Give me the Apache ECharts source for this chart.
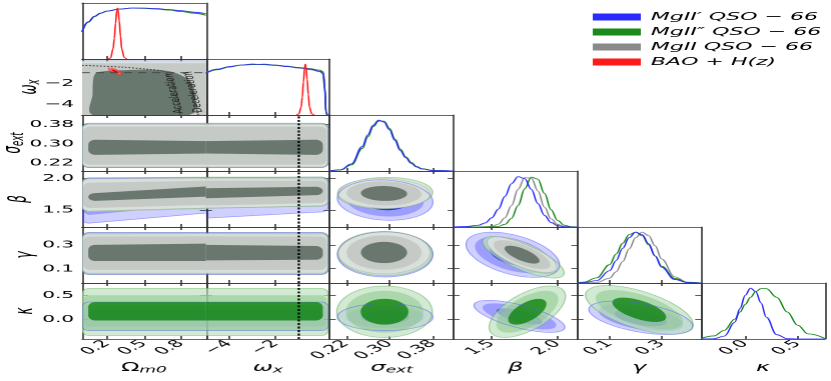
<!DOCTYPE html>
<html>
<head>
<meta charset="utf-8">
<script src="https://cdn.jsdelivr.net/npm/echarts@6/dist/echarts.min.js"></script>
<style>
  html, body { margin: 0; padding: 0; background: #fff; overflow: hidden; }
  /* the reference figure is stretched 2x horizontally */
  #chart { width: 415.5px; height: 381px; transform: scaleX(2); transform-origin: 0 0; }
</style>
</head>
<body>
<div id="chart"></div>
<script>
var FONT = 'DejaVu Sans';

// datasets: 0 blue, 1 green, 2 gray, 3 red
var dsNames = ['MgII′ QSO − 66', 'MgII″ QSO − 66', 'MgII QSO − 66', 'BAO + H(z)'];
var dsColors = ['#2b2bff', '#1a8a1a', '#8a8a8a', '#ff1a1a'];

// parameters: Ωm0, ωx, σext, β, γ, κ
var xRanges = [[0, 1], [-5, 0.33], [0.19, 0.418], [1.21, 2.15], [-0.024, 0.452], [-0.42, 0.76]];
var yRanges = [[0, 1.1], [-5, 0.3], [0.186, 0.42], [1.23, 2.115], [-0.02, 0.45], [-0.4, 0.75]];
var ticks = [[0.2, 0.5, 0.8], [-4, -2], [0.22, 0.30, 0.38], [1.5, 2.0], [0.1, 0.3], [0.0, 0.5]];
var tickLabels = [['0.2', '0.5', '0.8'], ['−4', '−2'], ['0.22', '0.30', '0.38'], ['1.5', '2.0'], ['0.1', '0.3'], ['0.0', '0.5']];
var axisNames = ['{u|Ω}{s|m0}', '{m|ω}{s|x}', '{m|σ}{s|ext}', '{m|β}', '{m|γ}', '{m|κ}'];
var yNameGaps = [0, 19, 27, 24, 21, 21];

// 1D marginals (normalised heights)
var omGrid = [0, 0.05, 0.1, 0.15, 0.2, 0.3, 0.4, 0.5, 0.6, 0.7, 0.8, 0.9, 1.0];
var omBlue = [0.54, 0.73, 0.84, 0.9, 0.94, 0.98, 1.0, 1.0, 0.99, 0.97, 0.95, 0.92, 0.89];
var omGreen = [0.53, 0.72, 0.83, 0.9, 0.94, 0.98, 1.0, 0.995, 0.98, 0.96, 0.93, 0.9, 0.86];
var omGray = [0.53, 0.73, 0.84, 0.9, 0.94, 0.98, 1.0, 1.0, 0.99, 0.97, 0.94, 0.9, 0.86];
var omRedX = [0.21, 0.23, 0.25, 0.26, 0.27, 0.28, 0.285, 0.29, 0.30, 0.31, 0.32, 0.34, 0.36];
var omRed = [0, 0.02, 0.2, 0.4, 0.7, 0.95, 1.0, 0.97, 0.75, 0.45, 0.2, 0.03, 0];

var wxGrid = [-5, -4.5, -4, -3.5, -3, -2.5, -2, -1.5, -1, -0.5, -0.1, 0.05, 0.12, 0.17, 0.22];
var wxBlue = [0.82, 0.9, 0.95, 0.98, 1.0, 0.99, 0.98, 0.95, 0.93, 0.9, 0.86, 0.82, 0.5, 0.05, 0];
var wxGreen = [0.82, 0.89, 0.94, 0.98, 0.99, 1.0, 0.98, 0.96, 0.93, 0.91, 0.88, 0.85, 0.55, 0.06, 0];
var wxGray = [0.83, 0.9, 0.95, 0.98, 1.0, 0.99, 0.97, 0.95, 0.92, 0.89, 0.85, 0.8, 0.45, 0.04, 0];
var wxRedX = [-1.1, -1.0, -0.9, -0.85, -0.8, -0.75, -0.72, -0.69, -0.64, -0.59, -0.54, -0.44, -0.34];
var wxRed = [0, 0.02, 0.15, 0.35, 0.65, 0.92, 1.0, 0.95, 0.7, 0.4, 0.15, 0.02, 0];

var sigGrid = [0.19, 0.21, 0.23, 0.25, 0.26, 0.27, 0.28, 0.29, 0.30, 0.31, 0.32, 0.33, 0.34, 0.35, 0.36, 0.38, 0.418];
var sigBlue = [0.003, 0.025, 0.14, 0.48, 0.71, 0.9, 1.0, 0.96, 0.81, 0.6, 0.4, 0.26, 0.15, 0.08, 0.04, 0.01, 0];
var sigGreen = [0.002, 0.02, 0.12, 0.44, 0.67, 0.87, 0.98, 0.98, 0.84, 0.63, 0.43, 0.28, 0.17, 0.09, 0.045, 0.01, 0];
var sigGray = [0.002, 0.02, 0.125, 0.45, 0.68, 0.88, 0.99, 0.97, 0.83, 0.62, 0.42, 0.27, 0.16, 0.08, 0.04, 0.01, 0];

var betaGrid = [1.21, 1.3, 1.4, 1.45, 1.5, 1.55, 1.6, 1.65, 1.7, 1.75, 1.8, 1.85, 1.9, 1.95, 2.0, 2.05, 2.1, 2.15];
var betaBlue = [0.003, 0.01, 0.035, 0.08, 0.18, 0.35, 0.6, 0.85, 0.99, 0.95, 0.74, 0.46, 0.23, 0.09, 0.025, 0.005, 0, 0];
var betaGreen = [0, 0, 0, 0.001, 0.002, 0.012, 0.053, 0.17, 0.42, 0.75, 0.98, 0.94, 0.66, 0.34, 0.13, 0.036, 0.008, 0];
var betaGray = [0, 0, 0.002, 0.005, 0.013, 0.056, 0.18, 0.42, 0.74, 0.97, 0.96, 0.71, 0.39, 0.16, 0.05, 0.01, 0, 0];

var gamGrid = [-0.024, 0.0, 0.05, 0.1, 0.125, 0.15, 0.175, 0.2, 0.225, 0.25, 0.275, 0.3, 0.35, 0.4, 0.452];
var gamBlue = [0.0016, 0.005, 0.046, 0.24, 0.44, 0.68, 0.89, 1.0, 0.95, 0.77, 0.53, 0.31, 0.07, 0.008, 0];
var gamGreen = [0.007, 0.016, 0.1, 0.36, 0.57, 0.78, 0.95, 1.0, 0.93, 0.75, 0.53, 0.33, 0.09, 0.014, 0.001];
var gamGray = [0, 0, 0.01, 0.095, 0.22, 0.42, 0.67, 0.89, 1.0, 0.93, 0.73, 0.47, 0.12, 0.014, 0];

var kapGrid = [-0.42, -0.3, -0.2, -0.1, -0.05, 0, 0.05, 0.1, 0.15, 0.2, 0.3, 0.4, 0.5, 0.6, 0.76];
var kapBlue = [0, 0.005, 0.056, 0.33, 0.6, 0.86, 1.0, 0.93, 0.71, 0.43, 0.085, 0.007, 0, 0, 0];
var kapGreen = [0.012, 0.06, 0.17, 0.39, 0.53, 0.68, 0.82, 0.93, 0.99, 0.99, 0.82, 0.53, 0.27, 0.1, 0.012];

// 2D contours of the gaussian-like pairs: [ds, cx, cy, halfX, halfY, tilt] (outer level)
var LEVEL_SCALE = [1, 0.81, 0.5];
var ellSigBeta = [[0, 0.292, 1.655, 0.088, 0.32, -0.1], [1, 0.292, 1.765, 0.0875, 0.25, 0.05], [2, 0.29, 1.76, 0.085, 0.235, -0.05]];
var ellSigGam = [[0, 0.292, 0.22, 0.088, 0.19, 0], [1, 0.292, 0.225, 0.087, 0.185, 0], [2, 0.29, 0.236, 0.085, 0.178, 0]];
var ellSigKap = [[0, 0.292, 0.05, 0.088, 0.28, 0], [1, 0.291, 0.16, 0.088, 0.53, 0]];
var ellBetaGam = [[0, 1.66, 0.217, 0.355, 0.19, -0.45], [1, 1.74, 0.196, 0.31, 0.175, -0.75], [2, 1.73, 0.218, 0.265, 0.15, -0.7]];
var ellBetaKap = [[0, 1.71, 0.065, 0.345, 0.33, -0.68], [1, 1.77, 0.16, 0.29, 0.53, 0.6]];
var ellGamKap = [[0, 0.22, 0.035, 0.2, 0.345, -0.5], [1, 0.214, 0.2, 0.207, 0.5, -0.6]];
var ellOmWxRed = [[3, 0.267, -0.87, 0.054, 0.32, -0.75]];

// band contours against Ωm0 / ωx: [ds, level, low@left, high@left, low@right, high@right]
var bandStartOm = [0.0, 0.008, 0.05];
var bandEndWx = [0.26, 0.2, 0.03];
var bandSigOm = [
  [0, 0, 0.200, 0.386, 0.200, 0.386], [0, 1, 0.210, 0.374, 0.210, 0.374], [0, 2, 0.252, 0.316, 0.256, 0.312],
  [1, 0, 0.201, 0.385, 0.201, 0.385], [1, 1, 0.211, 0.373, 0.211, 0.373], [1, 2, 0.253, 0.317, 0.257, 0.312],
  [2, 0, 0.203, 0.381, 0.203, 0.381], [2, 1, 0.212, 0.372, 0.212, 0.372], [2, 2, 0.253, 0.317, 0.259, 0.311]
];
var bandSigWx = [
  [0, 0, 0.200, 0.386, 0.200, 0.386], [0, 1, 0.210, 0.374, 0.210, 0.374], [0, 2, 0.256, 0.312, 0.252, 0.316],
  [1, 0, 0.201, 0.385, 0.201, 0.385], [1, 1, 0.211, 0.373, 0.211, 0.373], [1, 2, 0.257, 0.312, 0.253, 0.317],
  [2, 0, 0.203, 0.381, 0.203, 0.381], [2, 1, 0.212, 0.372, 0.212, 0.372], [2, 2, 0.259, 0.311, 0.253, 0.317]
];
var bandBetaOm = [
  [0, 0, 1.29, 2.00, 1.45, 2.01], [0, 1, 1.42, 1.95, 1.60, 1.97], [0, 2, 1.55, 1.85, 1.68, 1.90],
  [1, 0, 1.48, 2.01, 1.53, 2.02], [1, 1, 1.52, 1.97, 1.57, 1.99], [1, 2, 1.67, 1.80, 1.74, 1.90],
  [2, 0, 1.47, 1.99, 1.52, 2.00], [2, 1, 1.53, 1.93, 1.58, 1.96], [2, 2, 1.64, 1.76, 1.71, 1.87]
];
var bandBetaWx = [
  [0, 0, 1.37, 2.01, 1.47, 2.02], [0, 1, 1.53, 1.97, 1.63, 1.98], [0, 2, 1.65, 1.90, 1.70, 1.90],
  [1, 0, 1.53, 2.02, 1.56, 2.02], [1, 1, 1.56, 1.98, 1.60, 1.99], [1, 2, 1.70, 1.85, 1.74, 1.88],
  [2, 0, 1.52, 2.00, 1.57, 1.99], [2, 1, 1.57, 1.96, 1.61, 1.96], [2, 2, 1.684, 1.842, 1.736, 1.867]
];
var bandGamOm = [
  [0, 0, 0.05, 0.405, 0.05, 0.405], [0, 1, 0.07, 0.385, 0.07, 0.385], [0, 2, 0.14, 0.28, 0.14, 0.28],
  [1, 0, 0.055, 0.40, 0.055, 0.40], [1, 1, 0.075, 0.38, 0.075, 0.38], [1, 2, 0.15, 0.29, 0.15, 0.29],
  [2, 0, 0.064, 0.39, 0.064, 0.392], [2, 1, 0.09, 0.37, 0.09, 0.372], [2, 2, 0.165, 0.30, 0.165, 0.31]
];
var bandGamWx = [
  [0, 0, 0.05, 0.405, 0.05, 0.405], [0, 1, 0.07, 0.385, 0.07, 0.385], [0, 2, 0.14, 0.28, 0.14, 0.28],
  [1, 0, 0.055, 0.40, 0.055, 0.40], [1, 1, 0.075, 0.38, 0.075, 0.38], [1, 2, 0.15, 0.29, 0.15, 0.29],
  [2, 0, 0.064, 0.392, 0.064, 0.39], [2, 1, 0.09, 0.372, 0.09, 0.37], [2, 2, 0.17, 0.30, 0.175, 0.29]
];
var bandKapOm = [
  [0, 0, -0.23, 0.36, -0.23, 0.36], [0, 1, -0.15, 0.30, -0.15, 0.30], [0, 2, -0.02, 0.20, -0.02, 0.20],
  [1, 0, -0.33, 0.64, -0.33, 0.64], [1, 1, -0.23, 0.50, -0.23, 0.50], [1, 2, -0.02, 0.36, -0.02, 0.36]
];
var bandKapWx = bandKapOm;

// Ωm0 - ωx panel
var omwxBlueOuter = [[-0.1, 0.2], [1.1, 0.2], [1.1, -5.5], [-0.1, -5.5]];
var omwxGreenOuter = [[-0.1, 0.15], [1.1, 0.15], [1.1, -5.5], [-0.1, -5.5]];
var omwxGrayOuter = [[-0.1, 0.05], [1.1, 0.05], [1.1, -5.5], [-0.1, -5.5]];
var omwxGrayMid = [[-0.1, -0.1], [1.1, -0.1], [1.1, -5.5], [-0.1, -5.5]];
var omwxGrayInner = [[0.09, -5.3], [0.085, -3.0], [0.09, -1.6], [0.11, -1.05], [0.16, -0.88], [0.3, -0.78], [0.52, -0.71],
  [0.7, -0.85], [0.79, -1.19], [0.875, -1.81], [0.91, -2.76], [0.92, -4.0], [0.905, -4.75], [0.86, -5.1], [0.8, -5.3]];
var accelCurve = [[0, -0.3], [0.307, -0.46], [0.55, -0.69], [0.655, -0.86], [0.712, -1.5], [0.752, -2.73], [0.776, -3.86], [0.792, -5.0]];
var decelCurve = [[0.82, -1.03], [0.833, -1.21], [0.873, -2.16], [0.906, -3.58], [0.938, -5.0]];
var phantomLine = [[0, -1], [1, -1]];
var regionLabels = [['Acceleration', 0.744, -2.96], ['Deceleration', 0.9, -2.82]];

var fills = [
  ['rgba(40,40,255,0.22)', 'rgba(40,40,255,0.3)', 'rgba(0,0,255,0.75)'],
  ['rgba(190,225,190,0.7)', 'rgba(140,200,140,0.55)', 'rgba(10,130,10,0.78)'],
  ['rgba(222,225,222,0.9)', 'rgba(196,200,197,0.95)', 'rgba(100,115,106,0.95)'],
  ['rgba(255,150,150,0.6)', 'rgba(255,80,80,0.8)', 'rgba(235,0,0,0.95)']
];
var edges = ['rgba(90,90,255,0.6)', 'rgba(90,170,90,0.55)', 'rgba(160,170,160,0.5)', 'rgba(255,0,0,0.6)'];

var colLeft = 41, colW = 61.83, rowTop = 3, rowH = 56;

function fmt(p) {
  return function (v) {
    for (var i = 0; i < ticks[p].length; i++) {
      if (Math.abs(v - ticks[p][i]) < 1e-9) return tickLabels[p][i];
    }
    return '';
  };
}

var richName = {
  u: { fontSize: 12, fontFamily: FONT, color: '#000', lineHeight: 14 },
  m: { fontSize: 12, fontStyle: 'italic', fontFamily: FONT, color: '#000', lineHeight: 14 },
  s: { fontSize: 8.5, fontStyle: 'italic', fontFamily: FONT, color: '#000', lineHeight: 8, verticalAlign: 'bottom' }
};
var frame = { color: '#333', width: 0.8 };

function makeX(gi, p, pos, tickOn, labelOn) {
  return {
    type: 'value', gridIndex: gi, position: pos, min: xRanges[p][0], max: xRanges[p][1],
    axisLine: { show: true, onZero: false, lineStyle: frame },
    axisTick: { show: tickOn, inside: true, length: 3, customValues: ticks[p], lineStyle: frame },
    axisLabel: { show: labelOn, customValues: ticks[p], rotate: 45, margin: 3, hideOverlap: false,
      fontSize: 10, fontFamily: FONT, color: '#000', formatter: fmt(p) },
    splitLine: { show: false },
    name: labelOn ? axisNames[p] : '', nameLocation: 'middle', nameGap: 22, nameMoveOverlap: false,
    nameTextStyle: { rich: richName }
  };
}
function makeY(gi, p, pos, tickOn, labelOn) {
  return {
    type: 'value', gridIndex: gi, position: pos, min: yRanges[p][0], max: yRanges[p][1],
    axisLine: { show: true, onZero: false, lineStyle: frame },
    axisTick: { show: tickOn, inside: true, length: 3, customValues: ticks[p], lineStyle: frame },
    axisLabel: { show: labelOn, customValues: ticks[p], margin: 4, hideOverlap: false,
      fontSize: 10, fontFamily: FONT, color: '#000', formatter: fmt(p) },
    splitLine: { show: false },
    name: labelOn ? axisNames[p] : '', nameLocation: 'middle', nameRotate: 90, nameGap: yNameGaps[p],
    nameMoveOverlap: false, nameTextStyle: { rich: richName }
  };
}

var grids = [], xAxes = [], yAxes = [], series = [], panel = {};
for (var r = 0; r < 6; r++) {
  for (var c = 0; c <= r; c++) {
    var gi = grids.length, diag = r === c;
    grids.push({ left: colLeft + c * colW, top: rowTop + r * rowH, width: colW, height: rowH });
    panel[r + '_' + c] = { x: xAxes.length, y: yAxes.length };
    xAxes.push(makeX(gi, c, 'bottom', true, r === 5));
    xAxes.push(makeX(gi, c, 'top', !diag, false));
    yAxes.push(makeY(gi, diag ? 0 : r, 'left', !diag, c === 0 && !diag));
    yAxes.push(makeY(gi, diag ? 0 : r, 'right', !diag, false));
  }
}

function addCurve(p, xs, ys, ds) {
  var ax = panel[p + '_' + p];
  series.push({
    type: 'line', name: dsNames[ds], xAxisIndex: ax.x, yAxisIndex: ax.y,
    data: xs.map(function (x, i) { return [x, ys[i]]; }),
    showSymbol: false, smooth: 0.4, smoothMonotone: 'x', silent: true, z: 3,
    lineStyle: { color: dsColors[ds], width: 0.8 }, itemStyle: { color: dsColors[ds] }
  });
}
addCurve(0, omGrid, omGray, 2); addCurve(0, omGrid, omGreen, 1); addCurve(0, omGrid, omBlue, 0); addCurve(0, omRedX, omRed, 3);
addCurve(1, wxGrid, wxGray, 2); addCurve(1, wxGrid, wxGreen, 1); addCurve(1, wxGrid, wxBlue, 0); addCurve(1, wxRedX, wxRed, 3);
addCurve(2, sigGrid, sigGray, 2); addCurve(2, sigGrid, sigGreen, 1); addCurve(2, sigGrid, sigBlue, 0);
addCurve(3, betaGrid, betaGray, 2); addCurve(3, betaGrid, betaGreen, 1); addCurve(3, betaGrid, betaBlue, 0);
addCurve(4, gamGrid, gamGray, 2); addCurve(4, gamGrid, gamGreen, 1); addCurve(4, gamGrid, gamBlue, 0);
addCurve(5, kapGrid, kapGreen, 1); addCurve(5, kapGrid, kapBlue, 0);

function clampPt(p, r, c) {
  return [Math.min(Math.max(p[0], xRanges[c][0]), xRanges[c][1]), Math.min(Math.max(p[1], yRanges[r][0]), yRanges[r][1])];
}
function arc(pts, cx, cy, rx, ry, a0, a1) {
  for (var k = 0; k <= 8; k++) {
    var a = a0 + (a1 - a0) * k / 8;
    pts.push([cx + rx * Math.cos(a), cy + ry * Math.sin(a)]);
  }
}
function ellipsePts(e, s, api) {
  var pts = [], q = Math.sqrt(1 - e[5] * e[5]);
  for (var k = 0; k <= 72; k++) {
    var t = 2 * Math.PI * k / 72;
    pts.push(api.coord([e[1] + s * e[3] * Math.cos(t), e[2] + s * e[4] * (e[5] * Math.cos(t) + q * Math.sin(t))]));
  }
  return pts;
}
// first segment of a band lies on the panel edge
function bandPts(b, c, api) {
  var lvl = b[1], xr = xRanges[c];
  var x0 = c === 0 ? bandStartOm[lvl] : xr[0];
  var x1 = c === 0 ? xr[1] : bandEndWx[lvl];
  function lo(x) { return b[2] + (b[4] - b[2]) * (x - xr[0]) / (xr[1] - xr[0]); }
  function hi(x) { return b[3] + (b[5] - b[3]) * (x - xr[0]) / (xr[1] - xr[0]); }
  var BL = api.coord([x0, lo(x0)]), TL = api.coord([x0, hi(x0)]);
  var BR = api.coord([x1, lo(x1)]), TR = api.coord([x1, hi(x1)]);
  var pts = [], rx = 3.5, ry;
  if (c === 0) {
    ry = Math.min(5, (BL[1] - TL[1]) / 2);
    pts.push(BR, TR);
    arc(pts, TL[0] + rx, TL[1] + ry, rx, ry, -Math.PI / 2, -Math.PI);
    arc(pts, BL[0] + rx, BL[1] - ry, rx, ry, Math.PI, Math.PI / 2);
  } else {
    ry = Math.min(5, (BR[1] - TR[1]) / 2);
    pts.push(BL, TL);
    arc(pts, TR[0] - rx, TR[1] + ry, rx, ry, -Math.PI / 2, 0);
    arc(pts, BR[0] - rx, BR[1] - ry, rx, ry, 0, Math.PI / 2);
  }
  return pts;
}

function addShapes(r, c, items) {
  var ax = panel[r + '_' + c];
  var mid = [(xRanges[c][0] + xRanges[c][1]) / 2, (yRanges[r][0] + yRanges[r][1]) / 2];
  series.push({
    type: 'custom', xAxisIndex: ax.x, yAxisIndex: ax.y, silent: true, clip: true, z: 2,
    data: items.map(function (it, i) { return [mid[0], mid[1], i]; }),
    renderItem: function (params, api) {
      var it = items[api.value(2)];
      var pts = it.get(api);
      if (it.edge) {
        return { type: 'polyline', z2: 100 + it.ds, shape: { points: pts },
          style: { fill: null, stroke: edges[it.ds], lineWidth: 0.6 } };
      }
      return { type: 'polygon', z2: it.ds * 10 + it.lvl, shape: { points: pts, smooth: it.smooth || 0 },
        style: { fill: fills[it.ds][it.lvl] } };
    }
  });
}
function ellipseItems(list) {
  var out = [];
  list.forEach(function (e) {
    LEVEL_SCALE.forEach(function (s, lvl) {
      out.push({ ds: e[0], lvl: lvl, get: function (api) { return ellipsePts(e, s, api); } });
    });
  });
  list.forEach(function (e) {
    out.push({ ds: e[0], lvl: 0, edge: true, get: function (api) { return ellipsePts(e, 1, api); } });
  });
  return out;
}
function bandItems(list, c) {
  var out = [];
  list.forEach(function (b) {
    out.push({ ds: b[0], lvl: b[1], get: function (api) { return bandPts(b, c, api); } });
  });
  list.forEach(function (b) {
    if (b[1] === 0) out.push({ ds: b[0], lvl: 0, edge: true, get: function (api) {
      var p = bandPts(b, c, api);
      return p.slice(1).concat([p[0]]);
    } });
  });
  return out;
}

addShapes(2, 0, bandItems(bandSigOm, 0));
addShapes(2, 1, bandItems(bandSigWx, 1));
addShapes(3, 0, bandItems(bandBetaOm, 0));
addShapes(3, 1, bandItems(bandBetaWx, 1));
addShapes(4, 0, bandItems(bandGamOm, 0));
addShapes(4, 1, bandItems(bandGamWx, 1));
addShapes(5, 0, bandItems(bandKapOm, 0));
addShapes(5, 1, bandItems(bandKapWx, 1));
addShapes(3, 2, ellipseItems(ellSigBeta));
addShapes(4, 2, ellipseItems(ellSigGam));
addShapes(5, 2, ellipseItems(ellSigKap));
addShapes(4, 3, ellipseItems(ellBetaGam));
addShapes(5, 3, ellipseItems(ellBetaKap));
addShapes(5, 4, ellipseItems(ellGamKap));

// Ωm0 - ωx panel
function polyItem(ds, lvl, poly, smooth) {
  return { ds: ds, lvl: lvl, smooth: smooth, get: function (api) {
    return poly.map(function (p) { return api.coord(clampPt(p, 1, 0)); });
  } };
}
addShapes(1, 0, [
  polyItem(0, 0, omwxBlueOuter), polyItem(1, 0, omwxGreenOuter),
  polyItem(2, 0, omwxGrayOuter), polyItem(2, 1, omwxGrayMid), polyItem(2, 2, omwxGrayInner, 0.3)
].concat(ellipseItems(ellOmWxRed)));

var om = panel['1_0'];
function refLine(ax, data, type, width, color) {
  series.push({ type: 'line', xAxisIndex: ax.x, yAxisIndex: ax.y, data: data, showSymbol: false, silent: true, z: 5,
    smooth: 0.3, lineStyle: { type: type, width: width, color: color } });
}
refLine(om, accelCurve, 'dotted', 0.9, '#333');
refLine(om, decelCurve, 'dotted', 0.9, '#333');
refLine(om, phantomLine, [4, 3], 0.9, '#444');
[2, 3, 4, 5].forEach(function (r) {
  refLine(panel[r + '_1'], [[-1, yRanges[r][0]], [-1, yRanges[r][1]]], [2, 1.5], 1.1, '#000');
});
series.push({
  type: 'custom', xAxisIndex: om.x, yAxisIndex: om.y, silent: true, z: 6,
  data: regionLabels.map(function (l, i) { return [l[1], l[2], i]; }),
  renderItem: function (params, api) {
    var p = api.coord([api.value(0), api.value(1)]);
    return { type: 'text', x: p[0], y: p[1], rotation: 1.70,
      style: { text: regionLabels[api.value(2)][0], fontSize: 6.5, fontFamily: FONT, fill: '#222',
        align: 'center', verticalAlign: 'middle' } };
  }
});

var chart = echarts.init(document.getElementById('chart'), null,
  { renderer: 'canvas', devicePixelRatio: 2, width: 415.5, height: 381 });
chart.setOption({
  animation: false,
  backgroundColor: '#fff',
  legend: {
    data: dsNames, orient: 'vertical', left: 291, top: 6, icon: 'rect', itemWidth: 24, itemHeight: 7, itemGap: 3,
    selectedMode: false,
    textStyle: { fontFamily: FONT, fontStyle: 'italic', fontSize: 11, lineHeight: 12, color: '#000' }
  },
  grid: grids,
  xAxis: xAxes,
  yAxis: yAxes,
  series: series
});
</script>
</body>
</html>
